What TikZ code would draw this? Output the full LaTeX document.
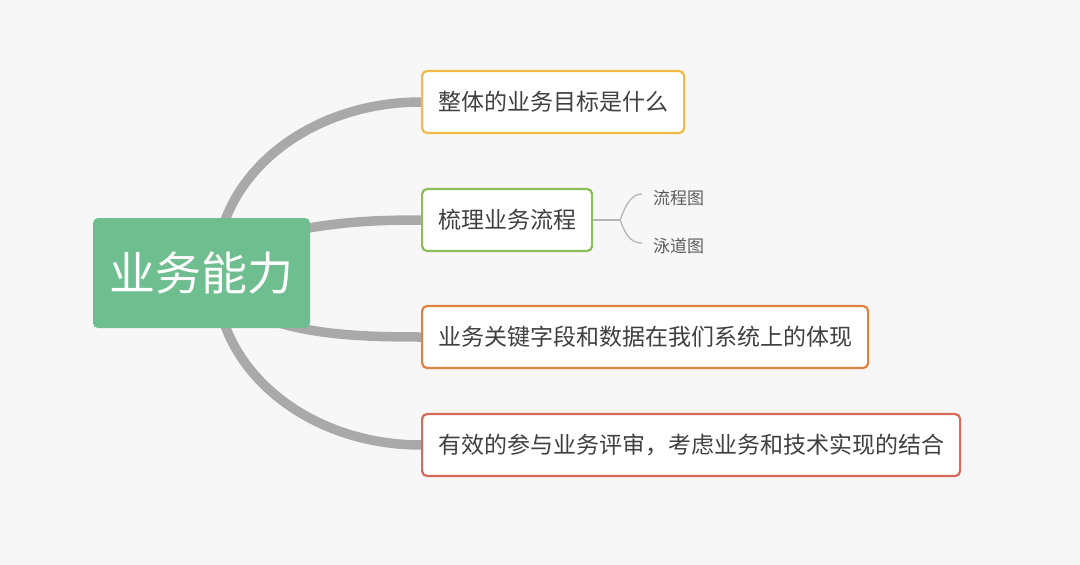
\documentclass[tikz,border=0pt]{standalone}
\usepackage{fontspec}
\setmainfont{Noto Sans CJK SC}
\usetikzlibrary{calc}

\definecolor{bg}{HTML}{F7F7F7}
\definecolor{rootgreen}{HTML}{6EBE8F}
\definecolor{branchgray}{HTML}{A9A9A9}
\definecolor{boxyellow}{HTML}{F3BA47}
\definecolor{boxgreen}{HTML}{8DBD5B}
\definecolor{boxorange}{HTML}{E0823F}
\definecolor{boxred}{HTML}{D96A5A}
\definecolor{txt}{HTML}{404040}

\pgfdeclarelayer{back}
\pgfsetlayers{back,main}

\tikzset{
	topic/.style = {draw = #1, line width = 2.2pt, rounded corners = 5pt, fill = white, text = txt,
		font = \fontsize{23}{23}\selectfont, inner xsep = 16pt, minimum height = 62pt, anchor = west},
	branch/.style = {draw = branchgray, line width = 9.5pt},
	twig/.style = {draw = branchgray!85, line width = 1.3pt},
	leaf/.style = {text = txt!85, font = \fontsize{17}{17}\selectfont, anchor = west, inner sep = 0pt}
}

\begin{document}
\begin{tikzpicture}[x = 1pt, y = -1pt]
	\begin{pgfonlayer}{back}
		\fill [bg] (0,0) rectangle (1080,565);
	\end{pgfonlayer}

	\node [fill = rootgreen, rounded corners = 5pt, text = white, font = \fontsize{46}{46}\selectfont,
		minimum width = 217pt, minimum height = 110pt] (root) at (201.5,273) {业务能力};

	\node [topic = boxyellow] (goal) at (421,102) {整体的业务目标是什么};
	\node [topic = boxgreen] (flow) at (421,220) {梳理业务流程};
	\node [topic = boxorange] (data) at (421,337) {业务关键字段和数据在我们系统上的体现};
	\node [topic = boxred] (review) at (421,445) {有效的参与业务评审，考虑业务和技术实现的结合};

	\node [leaf] (chart) at (653,198) {流程图};
	\node [leaf] (lane) at (653,246) {泳道图};

	\begin{pgfonlayer}{back}
		\draw [branch] ($(root.center)+(15,-5)$) .. controls ($(root.center)+(15,-95)$) and ($(goal.west)+(-115,0)$) .. (goal.west);
		\draw [branch] ($(root.center)+(50,-33)$) .. controls ($(root.center)+(120,-50)$) and ($(flow.west)+(-60,0)$) .. (flow.west);
		\draw [branch] ($(root.center)+(50,40)$) .. controls ($(root.center)+(100,62)$) and ($(data.west)+(-60,0)$) .. (data.west);
		\draw [branch] ($(root.center)+(15,5)$) .. controls ($(root.center)+(15,95)$) and ($(review.west)+(-115,0)$) .. (review.west);
	\end{pgfonlayer}

	\draw [twig] (flow.east) -- ++(27,0) coordinate (fork);
	\draw [twig]
		(fork) .. controls ($(fork)+(6,-18)$) and ($(chart.west)+(-20,-4)$) .. ($(chart.west)+(-11,-4)$)
		(fork) .. controls ($(fork)+(6,18)$) and ($(lane.west)+(-20,-3)$) .. ($(lane.west)+(-11,-3)$);
\end{tikzpicture}
\end{document}
